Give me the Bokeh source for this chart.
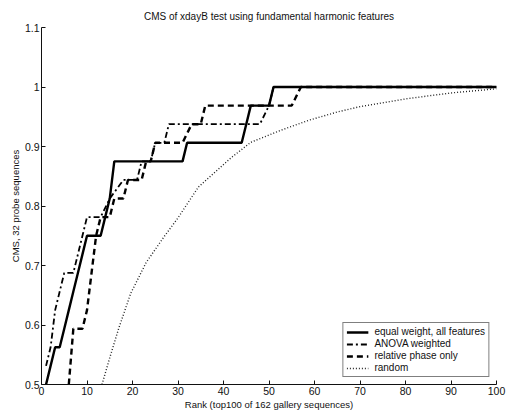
from bokeh.plotting import figure
from bokeh.models import Range1d, FixedTicker, CustomJSTickFormatter, Legend, LegendItem
from bokeh.embed import file_html
from bokeh.resources import INLINE

# ---- data ----
equal_rank = [1, 2, 3, 4, 5, 6, 7, 8, 9, 10, 13, 14, 15, 16, 31, 32, 44, 45, 46, 50, 51, 100]
equal_cms = [0.5, 0.53125, 0.5625, 0.5625, 0.59375, 0.625, 0.65625, 0.6875, 0.71875, 0.75,
             0.75, 0.78125, 0.8125, 0.875, 0.875, 0.90625, 0.90625, 0.9375, 0.96875, 0.96875,
             1.0, 1.0]

anova_rank = [1, 2, 3, 4, 5, 7, 8, 9, 10, 13, 15, 18, 21, 22, 24, 25, 27, 28, 48, 50, 51, 100]
anova_cms = [0.53125, 0.5625, 0.625, 0.65625, 0.6875, 0.6875, 0.71875, 0.75, 0.78125,
             0.78125, 0.8125, 0.84375, 0.84375, 0.875, 0.875, 0.90625, 0.90625, 0.9375,
             0.9375, 0.96875, 1.0, 1.0]

phase_rank = [6, 7, 9, 10, 11, 12, 13, 15, 16, 18, 19, 22, 23, 24, 25, 31, 33, 35, 36, 55, 57, 100]
phase_cms = [0.5, 0.59375, 0.59375, 0.625, 0.6875, 0.75, 0.78125, 0.78125, 0.8125, 0.8125,
             0.84375, 0.84375, 0.875, 0.875, 0.90625, 0.90625, 0.9375, 0.9375, 0.96875,
             0.96875, 1.0, 1.0]

random_rank = [13.3, 15, 17, 19.6, 23, 26.9, 30, 34.5, 41.5, 46, 52.5, 58.7, 65, 70, 80, 90, 100]
random_cms = [0.5, 0.545, 0.595, 0.653, 0.705, 0.748, 0.78, 0.832, 0.88, 0.907, 0.927, 0.944,
              0.958, 0.967, 0.98, 0.99, 0.997]

x_ticks = [0, 10, 20, 30, 40, 50, 60, 70, 80, 90, 100]
y_ticks = [0.5, 0.6, 0.7, 0.8, 0.9, 1.0, 1.1]

FONT = "Liberation Sans"
INK = "#111111"

p = figure(width=506, height=412, output_backend="svg", toolbar_location=None,
           x_range=Range1d(0, 100), y_range=Range1d(0.5, 1.1),
           min_border_left=41, min_border_right=10, min_border_top=27, min_border_bottom=28,
           title="CMS of xdayB test using fundamental harmonic features")

p.title.align = "center"
p.title.text_font = FONT
p.title.text_font_size = "10px"
p.title.text_font_style = "normal"
p.title.text_color = INK
p.title.standoff = 11
p.title.offset = 0

p.outline_line_color = None
p.grid.visible = False
p.background_fill_color = "white"
p.border_fill_color = "white"

for ax in (p.xaxis[0], p.yaxis[0]):
    ax.axis_line_color = INK
    ax.major_tick_line_color = INK
    ax.major_tick_in = 4
    ax.major_tick_out = 0
    ax.minor_tick_line_color = None
    ax.major_label_text_font = FONT
    ax.major_label_text_font_size = "10.5px"
    ax.major_label_text_color = INK
    ax.axis_label_text_font = FONT
    ax.axis_label_text_font_size = "9.5px"
    ax.axis_label_text_font_style = "normal"
    ax.axis_label_text_color = INK
    ax.axis_label_standoff = 1
    ax.major_label_standoff = 2

p.xaxis.ticker = FixedTicker(ticks=x_ticks)
p.yaxis.ticker = FixedTicker(ticks=y_ticks)
p.yaxis.formatter = CustomJSTickFormatter(
    code="return Math.abs(tick-1)<1e-9 ? '1' : tick.toFixed(1);")
p.xaxis.axis_label = "Rank (top100 of 162 gallery sequences)"
p.yaxis.axis_label = "CMS, 32 probe sequences"

r1 = p.line(equal_rank, equal_cms, line_color="black", line_width=2.4)
r2 = p.line(anova_rank, anova_cms, line_color="black", line_width=1.8, line_dash="6 3 2 3")
r3 = p.line(phase_rank, phase_cms, line_color="black", line_width=2.4, line_dash="6 4")
r4 = p.line(random_rank, random_cms, line_color="#222222", line_width=1.4, line_dash="1 2")

legend = Legend(items=[
    LegendItem(label="equal weight, all features", renderers=[r1]),
    LegendItem(label="ANOVA weighted", renderers=[r2]),
    LegendItem(label="relative phase only", renderers=[r3]),
    LegendItem(label="random", renderers=[r4]),
], location="bottom_right")
legend.label_text_font = FONT
legend.label_text_font_size = "10px"
legend.label_text_color = INK
legend.label_height = 10
legend.glyph_height = 10
legend.glyph_width = 22
legend.label_standoff = 6
legend.spacing = 1
legend.padding = 3
legend.margin = 7
legend.border_line_color = "black"
legend.border_line_width = 1
legend.background_fill_alpha = 1
p.add_layout(legend)

open("out.html", "w").write(file_html(p, INLINE))
